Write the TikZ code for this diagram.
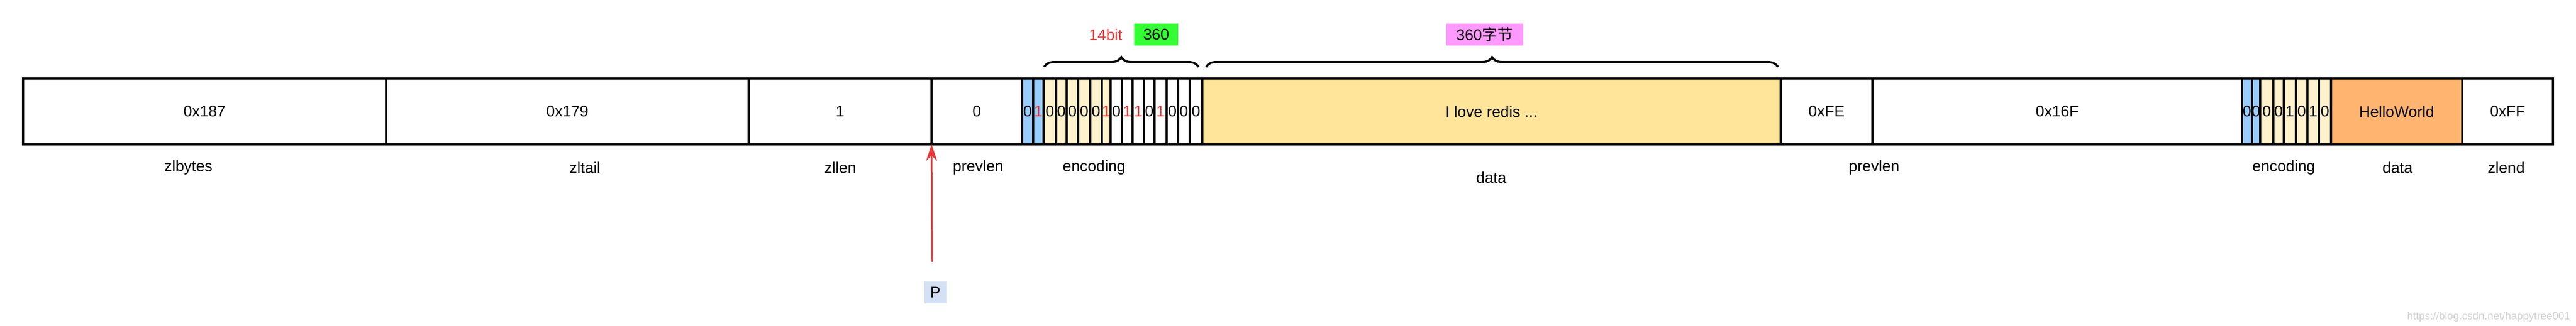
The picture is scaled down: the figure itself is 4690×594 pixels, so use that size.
\documentclass[tikz,border=0pt]{standalone}
\usepackage{fontspec}
\setmainfont{Liberation Sans}
\newfontfamily\cjk{Noto Sans CJK SC}
\usetikzlibrary{decorations.pathreplacing,arrows.meta}
\definecolor{bitblue}{HTML}{99CCFF}
\definecolor{bityel}{HTML}{FFF2CC}
\definecolor{datay}{HTML}{FFE599}
\definecolor{datao}{HTML}{FFB570}
\definecolor{myred}{HTML}{E83838}
\definecolor{mygreen}{HTML}{33FF33}
\definecolor{mypink}{HTML}{FF99FF}
\definecolor{pbox}{HTML}{D4E1F5}
\tikzset{
  x=0.01cm, y=-0.01cm,
  every node/.style={font=\fontsize{8}{9.6}\selectfont},
  cell/.style={draw, line width=1.1pt, minimum height=1.2cm, inner sep=0pt, outer sep=0pt},
  lab/.style={inner sep=0pt},
  tag/.style={inner sep=0pt, minimum height=0.4cm},
  br/.style={decorate, decoration={brace, amplitude=0.18cm}, line width=1.1pt}
}
\newcommand{\mycell}[5]{\node[cell, fill=#4, minimum width={(#3-#2)*0.01cm}] (#1) at ({(#2+#3)/2},203) {#5};}
\begin{document}
\begin{tikzpicture}
\useasboundingbox (0,0) rectangle (4690,594);
\mycell{zlbytes}{42}{703}{white}{0x187}
\mycell{zltail}{703}{1363}{white}{0x179}
\mycell{zllen}{1363}{1696}{white}{1}
\mycell{prev1}{1696}{1861}{white}{0}
\mycell{b1}{1861}{1881}{bitblue}{0}
\mycell{b2}{1881}{1900}{bitblue}{\textcolor{myred}{1}}
\mycell{b3}{1900}{1923}{bityel}{0}
\mycell{b4}{1923}{1942}{bityel}{0}
\mycell{b5}{1942}{1963}{bityel}{0}
\mycell{b6}{1963}{1985}{bityel}{0}
\mycell{b7}{1985}{2006}{bityel}{0}
\mycell{b8}{2006}{2022}{bityel}{\textcolor{myred}{1}}
\mycell{b9}{2022}{2043}{white}{0}
\mycell{b10}{2043}{2062}{white}{\textcolor{myred}{1}}
\mycell{b11}{2062}{2083}{white}{\textcolor{myred}{1}}
\mycell{b12}{2083}{2102}{white}{0}
\mycell{b13}{2102}{2124}{white}{\textcolor{myred}{1}}
\mycell{b14}{2124}{2145}{white}{0}
\mycell{b15}{2145}{2166}{white}{0}
\mycell{b16}{2166}{2189}{white}{0}
\mycell{data1}{2189}{3242}{datay}{I love redis ...}
\mycell{prev2}{3242}{3409}{white}{0xFE}
\mycell{p2b}{3409}{4082}{white}{0x16F}
\mycell{c1}{4082}{4100}{bitblue}{0}
\mycell{c2}{4100}{4115}{bitblue}{0}
\mycell{c3}{4115}{4139}{bityel}{0}
\mycell{c4}{4139}{4158}{bityel}{0}
\mycell{c5}{4158}{4180}{bityel}{1}
\mycell{c6}{4180}{4201}{bityel}{0}
\mycell{c7}{4201}{4222}{bityel}{1}
\mycell{c8}{4222}{4244}{bityel}{0}
\mycell{data2}{4244}{4483}{datao}{HelloWorld}
\mycell{zlend}{4483}{4648}{white}{0xFF}
% labels below
\node[lab] (l1) at (343,305) {zlbytes};
\node[lab] (l2) at (1065,305) {zltail};
\node[lab] (l3) at (1530,305) {zllen};
\node[lab] (l4) at (1781,305) {prevlen};
\node[lab] (l5) at (1992,305) {encoding};
\node[lab] (l6) at (2715,323) {data};
\node[lab] (l7) at (3412,305) {prevlen};
\node[lab] (l8) at (4158,305) {encoding};
\node[lab] (l9) at (4365,305) {data};
\node[lab] (l10) at (4563,305) {zlend};
% braces
\coordinate (bra1) at (1901,122);
\coordinate (bra2) at (2182,122);
\coordinate (brb1) at (2196,122);
\coordinate (brb2) at (3237,122);
\draw[br] (bra1) -- (bra2);
\draw[br] (brb1) -- (brb2);
\node[lab, text=myred] (bits) at (2013,63) {14bit};
\node[tag, fill=mygreen, minimum width=0.8cm] (n360) at (2105,63) {360};
\node[tag, fill=mypink, minimum width=1.4cm] (bytes) at (2703,63) {360{\cjk 字节}};
% pointer
\node[tag, fill=pbox, minimum width=0.4cm] (P) at (1703,533) {P};
\coordinate (pt) at (1697,477);
\draw[myred, line width=0.85pt, -{Stealth[length=0.3cm,width=0.2cm]}] (pt) -- (prev1.south west);
% watermark
\node[lab, anchor=east, text=black!18, font=\fontsize{5.5}{6.5}\selectfont] (wm) at (4680,577) {https://blog.csdn.net/happytree001};
\end{tikzpicture}
\end{document}
